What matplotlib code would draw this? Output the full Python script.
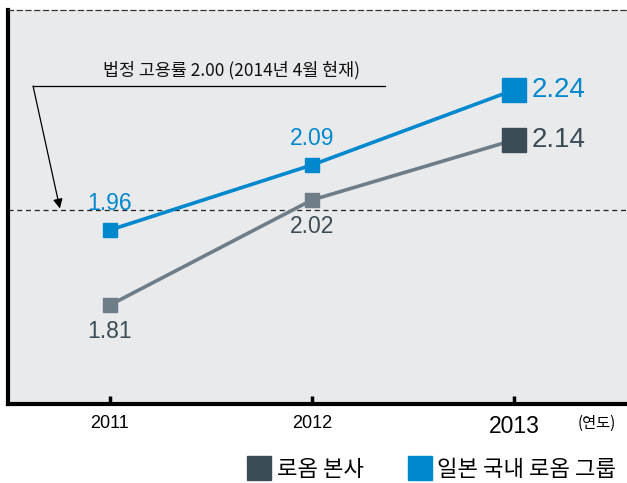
import matplotlib.pyplot as plt
from matplotlib.lines import Line2D

years = [2011, 2012, 2013]
hq = [1.81, 2.02, 2.14]        # 로옴 본사
group = [1.96, 2.09, 2.24]     # 일본 국내 로옴 그룹
legal_rate = 2.00
legend_labels = ['로옴 본사', '일본 국내 로옴 그룹']
note = '법정 고용률 2.00 (2014년 4월 현재)'

KR = ['Noto Sans CJK KR', 'DejaVu Sans']
NUM = ['Liberation Sans', 'DejaVu Sans']

c_blue = '#0088cf'
c_gray = '#6e7d87'
c_dark = '#3c4c56'

fig = plt.figure(figsize=(6.27, 4.83), dpi=100)
ax = fig.add_axes([8 / 627, 79 / 483, 619 / 627, 394 / 483])
ax.set_facecolor('#e9eaec')

# 법정 고용률 기준선
ax.axhline(legal_rate, color='#222222', lw=0.9, ls=(0, (4, 3)), zorder=1)

# 선
ax.plot(years, hq, color=c_gray, lw=2.6, zorder=2)
ax.plot(years, group, color=c_blue, lw=2.6, zorder=2)

# 마커 (2013년은 크게)
ax.plot(years[:2], hq[:2], 's', color=c_gray, ms=10.5, zorder=3)
ax.plot(years[2:], hq[2:], 's', color=c_dark, ms=17.5, zorder=3)
ax.plot(years[:2], group[:2], 's', color=c_blue, ms=10.5, zorder=3)
ax.plot(years[2:], group[2:], 's', color=c_blue, ms=17.5, zorder=3)

# 값 라벨
for x, v in zip(years[:2], group[:2]):
    ax.annotate(f'{v:.2f}', (x, v), xytext=(0, 19), textcoords='offset points',
                ha='center', va='center', color=c_blue, fontsize=16.5, family=NUM)
for x, v in zip(years[:2], hq[:2]):
    ax.annotate(f'{v:.2f}', (x, v), xytext=(0, -19), textcoords='offset points',
                ha='center', va='center', color=c_dark, fontsize=16.5, family=NUM)
ax.annotate(f'{group[2]:.2f}', (years[2], group[2]), xytext=(13, 0), textcoords='offset points',
            ha='left', va='center', color=c_blue, fontsize=20, family=NUM)
ax.annotate(f'{hq[2]:.2f}', (years[2], hq[2]), xytext=(13, 0), textcoords='offset points',
            ha='left', va='center', color=c_dark, fontsize=20, family=NUM)

# 법정 고용률 설명
ax.text(2011.604, 2.28, note, ha='center', va='center', fontsize=12.5, family=KR, color='#111111')
ax.plot([2010.619, 2012.361], [2.248, 2.248], color='black', lw=0.9)
ax.annotate('', xy=(2010.752, 2.003), xytext=(2010.619, 2.248),
            arrowprops=dict(arrowstyle='-|>', color='black', lw=0.9,
                            mutation_scale=14, shrinkA=0, shrinkB=0))

ax.set_xlim(2010.495, 2013.56)
ax.set_ylim(1.612, 2.40)
ax.set_yticks([])
ax.set_xticks(years)
ax.set_xticklabels([str(y) for y in years], family=NUM)
for lbl, fs in zip(ax.get_xticklabels(), [13, 13, 16.5]):
    lbl.set_fontsize(fs)
ax.tick_params(axis='x', direction='in', length=6, width=2.5, pad=8, color='black')

ax.spines['left'].set_linewidth(3)
ax.spines['bottom'].set_linewidth(3)
ax.spines['right'].set_visible(False)
ax.spines['top'].set_linestyle((0, (4, 3)))
ax.spines['top'].set_linewidth(0.9)
ax.spines['top'].set_color('#333333')

fig.text(597 / 627, 1 - 423 / 483, '(연도)', ha='center', va='center', fontsize=11, family=KR)

handles = [Line2D([], [], marker='s', ls='', ms=17, color=c_dark),
           Line2D([], [], marker='s', ls='', ms=17, color=c_blue)]
fig.legend(handles, legend_labels, loc='center right', bbox_to_anchor=(1.015, 1 - 469 / 483),
           ncol=2, frameon=False, prop={'family': KR, 'size': 16},
           handlelength=1.0, handletextpad=0.3, columnspacing=2.0)

fig.savefig('out.png', dpi=100)
